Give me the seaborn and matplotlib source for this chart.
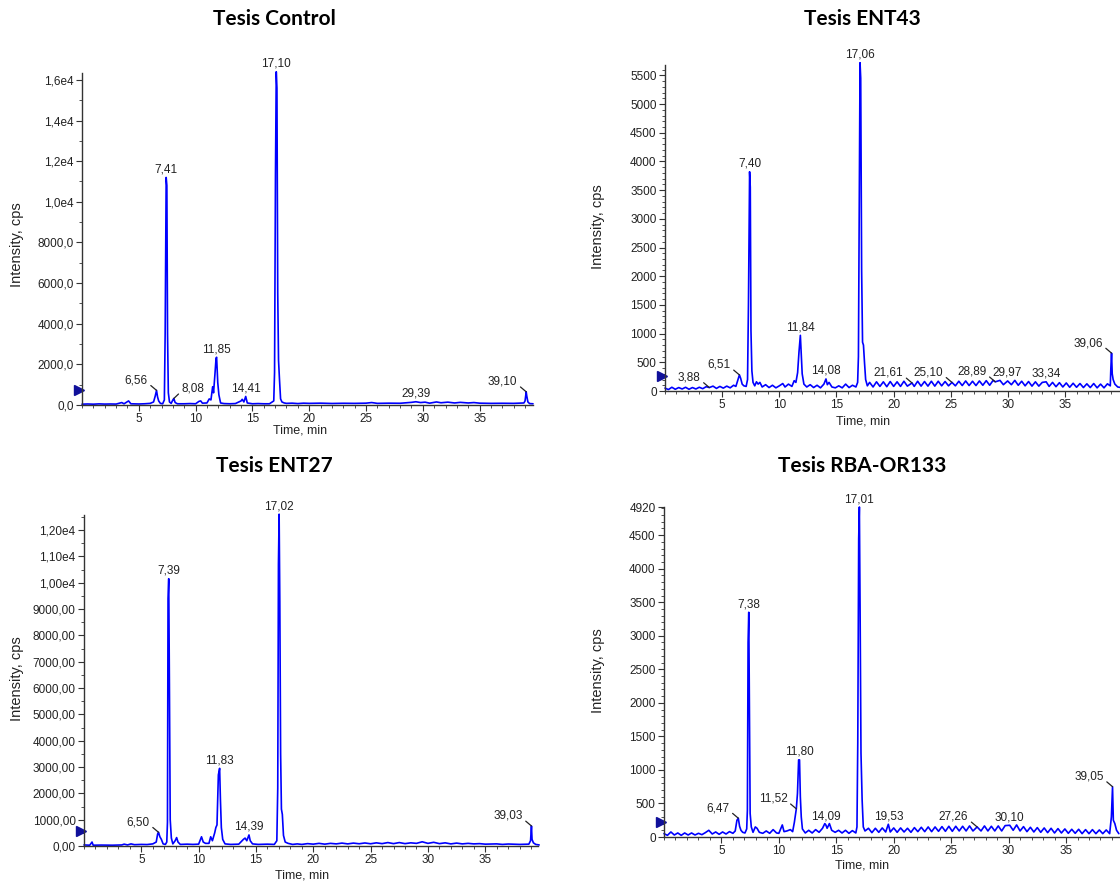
import numpy as np
import pandas as pd
import matplotlib
matplotlib.use("Agg")
import matplotlib.pyplot as plt
import matplotlib.transforms as mtransforms
from matplotlib.ticker import FixedLocator, MultipleLocator
import seaborn as sns

# ---------------- data ----------------
titles = ["Tesis Control", "Tesis ENT43", "Tesis ENT27", "Tesis RBA-OR133"]

ctrl_t = [0.0, 0.5, 1.0, 1.5, 2.0, 2.5, 3.0, 3.5, 3.7, 4.1, 4.3, 5.0, 5.5, 6.0, 6.3, 6.45, 6.56, 6.65, 6.75, 6.9,
          7.1, 7.25, 7.32, 7.41, 7.47, 7.53, 7.6, 7.7, 7.85, 8.0, 8.08, 8.2, 8.4, 9.0, 9.5, 10.0, 10.3, 10.45, 10.6,
          11.0, 11.2, 11.35, 11.5, 11.58, 11.7, 11.8, 11.85, 11.95, 12.05, 12.2, 12.5, 13.0, 13.5, 14.0, 14.1, 14.25,
          14.41, 14.55, 15.0, 15.5, 16.0, 16.5, 16.88, 16.95, 17.03, 17.10, 17.16, 17.23, 17.3, 17.38, 17.48, 17.6,
          17.8, 18.0, 18.5, 19.0, 19.5, 20.0, 21.0, 22.0, 23.0, 24.0, 25.0, 25.5, 26.0, 27.0, 28.0, 29.0, 29.39,
          29.8, 30.2, 30.6, 31.2, 31.6, 32.2, 32.8, 33.3, 34.0, 34.5, 35.0, 36.0, 37.0, 38.0, 38.9, 39.0, 39.10,
          39.15, 39.25, 39.4, 39.7]
ctrl_i = [40, 50, 40, 55, 45, 50, 45, 120, 60, 200, 60, 50, 60, 80, 150, 450, 720, 400, 200, 80,
          60, 250, 3500, 11200, 10800, 3500, 600, 150, 80, 250, 320, 120, 60, 60, 70, 60, 180, 200, 90,
          100, 300, 250, 900, 600, 1500, 2300, 2350, 1100, 500, 100, 70, 60, 70, 200, 280, 150,
          420, 100, 60, 70, 60, 60, 200, 1600, 11300, 16400, 15600, 5500, 2200, 1300, 300, 150,
          100, 80, 90, 70, 90, 80, 90, 75, 85, 80, 90, 120, 80, 90, 85, 130, 160,
          120, 140, 90, 150, 110, 140, 100, 130, 100, 120, 90, 80, 85, 80, 100, 200, 650,
          450, 150, 70, 60]

ent43_t = [0.0, 0.3, 0.6, 0.9, 1.2, 1.5, 1.8, 2.1, 2.4, 2.7, 3.0, 3.3, 3.6, 3.88, 4.2, 4.5, 4.8, 5.1, 5.4, 5.7,
           6.0, 6.2, 6.35, 6.51, 6.62, 6.75, 6.9, 7.1, 7.22, 7.3, 7.40, 7.46, 7.52, 7.6, 7.7, 7.85, 8.0, 8.15, 8.3,
           8.5, 8.8, 9.1, 9.4, 9.7, 10.0, 10.3, 10.5, 10.8, 11.1, 11.3, 11.45, 11.6, 11.72, 11.84, 11.92, 12.0,
           12.15, 12.4, 12.7, 13.0, 13.3, 13.6, 13.9, 14.08, 14.2, 14.35, 14.6, 14.9, 15.2, 15.5, 15.8, 16.1, 16.4,
           16.7, 16.85, 16.92, 17.0, 17.06, 17.12, 17.2, 17.28, 17.36, 17.45, 17.55, 17.7, 17.9, 18.2, 18.5, 18.8,
           19.1, 19.4, 19.7, 20.0, 20.3, 20.6, 20.9, 21.2, 21.61, 21.8, 22.1, 22.4, 22.7, 23.0, 23.3, 23.6, 23.9,
           24.2, 24.5, 24.8, 25.10, 25.4, 25.7, 26.0, 26.3, 26.6, 26.9, 27.2, 27.5, 27.8, 28.1, 28.4, 28.7, 28.89,
           29.3, 29.6, 29.97, 30.3, 30.6, 30.9, 31.2, 31.5, 31.8, 32.1, 32.4, 32.7, 33.0, 33.34, 33.6, 33.9, 34.2,
           34.5, 34.8, 35.1, 35.4, 35.7, 36.0, 36.3, 36.6, 36.9, 37.2, 37.5, 37.8, 38.1, 38.4, 38.7, 38.95, 39.0,
           39.06, 39.12, 39.2, 39.35, 39.6, 39.9]
ent43_i = [50, 25, 65, 30, 60, 35, 65, 30, 60, 35, 65, 40, 75, 60, 85, 45, 80, 50, 85, 55,
           100, 80, 180, 280, 220, 120, 90, 80, 200, 1500, 3820, 3550, 1050, 350, 150, 90, 160, 120, 150,
           70, 110, 60, 100, 55, 90, 130, 70, 120, 80, 180, 150, 320, 680, 970, 650, 300,
           120, 70, 110, 60, 100, 55, 120, 210, 110, 150, 70, 55, 90, 55, 120, 60, 100,
           70, 150, 600, 3700, 5720, 5450, 2100, 850, 800, 500, 200, 90, 150, 70, 160, 80,
           160, 75, 165, 80, 160, 80, 170, 85, 140, 80, 170, 85, 165, 85, 170, 85, 170,
           90, 165, 90, 150, 90, 170, 95, 175, 95, 170, 95, 175, 100, 180, 100, 185, 160,
           185, 110, 175, 110, 185, 100, 170, 90, 165, 85, 160, 85, 150, 160, 80, 150, 75,
           145, 70, 140, 65, 135, 65, 130, 60, 125, 60, 130, 55, 120, 55, 125, 90, 400,
           660, 300, 200, 120, 70, 60]

ent27_t = [0.0, 0.5, 0.7, 0.8, 1.5, 2.5, 3.3, 3.5, 3.8, 4.1, 4.4, 5.0, 5.5, 6.0, 6.3, 6.42, 6.50, 6.62, 6.75,
           6.9, 7.1, 7.22, 7.28, 7.33, 7.39, 7.45, 7.52, 7.62, 7.75, 7.95, 8.08, 8.2, 8.4, 9.0, 9.5, 10.0, 10.25,
           10.4, 10.6, 10.9, 11.05, 11.2, 11.4, 11.5, 11.6, 11.72, 11.83, 11.9, 11.98, 12.1, 12.3, 12.8, 13.5,
           13.9, 14.05, 14.2, 14.39, 14.5, 14.7, 15.2, 16.0, 16.6, 16.82, 16.9, 16.96, 17.02, 17.08, 17.15, 17.22,
           17.3, 17.4, 17.55, 17.8, 18.2, 18.6, 19.0, 19.5, 20.0, 20.5, 21.0, 21.5, 22.0, 22.5, 23.0, 23.5, 24.0,
           24.5, 25.0, 25.5, 26.0, 26.5, 27.0, 27.5, 28.0, 28.5, 29.0, 29.5, 30.0, 30.5, 31.0, 31.5, 32.0, 32.5,
           33.0, 33.5, 34.0, 34.5, 35.0, 36.0, 36.5, 37.0, 38.0, 38.8, 38.95, 39.03, 39.08, 39.2, 39.4, 39.7]
ent27_i = [40, 30, 150, 30, 35, 30, 40, 70, 40, 80, 50, 60, 55, 80, 150, 450, 520, 350, 250,
           80, 60, 150, 900, 9400, 10150, 6150, 1000, 300, 80, 200, 320, 150, 60, 70, 60, 70, 350,
           150, 100, 100, 350, 200, 500, 700, 800, 2700, 2950, 1750, 700, 250, 80, 60, 70,
           250, 300, 200, 420, 200, 80, 60, 70, 60, 200, 2200, 10700, 12600, 9300, 3500, 1400,
           1200, 400, 150, 100, 60, 80, 60, 90, 70, 100, 70, 100, 80, 110, 80, 110, 85,
           115, 85, 120, 90, 130, 90, 130, 90, 120, 100, 160, 100, 140, 90, 120, 80, 110,
           80, 100, 80, 90, 70, 80, 60, 75, 60, 70, 200, 760, 250, 120, 60, 40]

rba_t = [0.0, 0.3, 0.6, 0.9, 1.2, 1.5, 1.8, 2.1, 2.4, 2.7, 3.0, 3.3, 3.6, 3.9, 4.2, 4.5, 4.8, 5.1, 5.4, 5.7,
         6.0, 6.2, 6.35, 6.47, 6.58, 6.7, 6.85, 7.05, 7.2, 7.26, 7.32, 7.38, 7.44, 7.5, 7.6, 7.75, 7.95, 8.1, 8.3,
         8.6, 8.9, 9.2, 9.5, 9.8, 10.0, 10.3, 10.45, 10.7, 11.0, 11.2, 11.35, 11.52, 11.62, 11.72, 11.80, 11.87,
         11.95, 12.05, 12.3, 12.6, 12.9, 13.2, 13.5, 13.8, 14.0, 14.09, 14.2, 14.4, 14.6, 14.9, 15.2, 15.5, 15.8,
         16.1, 16.4, 16.7, 16.8, 16.87, 16.95, 17.01, 17.07, 17.15, 17.25, 17.35, 17.5, 17.8, 18.1, 18.4, 18.7,
         19.0, 19.3, 19.53, 19.7, 20.0, 20.3, 20.6, 20.9, 21.2, 21.5, 21.8, 22.1, 22.4, 22.7, 23.0, 23.3, 23.6,
         23.9, 24.2, 24.5, 24.8, 25.1, 25.4, 25.7, 26.0, 26.3, 26.6, 26.9, 27.26, 27.6, 27.9, 28.2, 28.5, 28.8,
         29.1, 29.4, 29.7, 30.10, 30.4, 30.7, 31.0, 31.3, 31.6, 31.9, 32.2, 32.5, 32.8, 33.1, 33.4, 33.7, 34.0,
         34.3, 34.6, 34.9, 35.2, 35.5, 35.8, 36.1, 36.4, 36.7, 37.0, 37.3, 37.6, 37.9, 38.2, 38.5, 38.8, 38.95,
         39.05, 39.12, 39.25, 39.4, 39.6]
rba_i = [50, 25, 75, 30, 60, 25, 60, 30, 60, 30, 55, 35, 65, 100, 45, 75, 40, 75, 45, 80,
         55, 90, 250, 280, 160, 100, 70, 60, 120, 400, 2900, 3350, 1850, 350, 150, 70, 150, 130, 70,
         55, 90, 55, 110, 60, 55, 180, 80, 90, 110, 80, 220, 420, 650, 1150, 1150, 600,
         300, 120, 60, 100, 60, 110, 70, 130, 200, 180, 130, 200, 100, 70, 100, 60, 100,
         55, 95, 60, 150, 1400, 4450, 4920, 3450, 1250, 550, 150, 90, 130, 65, 130, 70,
         135, 75, 190, 75, 135, 70, 135, 75, 130, 70, 140, 80, 145, 80, 150, 80, 150,
         85, 155, 85, 160, 85, 160, 90, 160, 90, 165, 90, 150, 90, 165, 90, 160, 90,
         165, 90, 170, 175, 100, 180, 90, 155, 80, 145, 75, 140, 70, 135, 65, 130, 60,
         125, 60, 120, 55, 115, 55, 115, 50, 110, 50, 110, 50, 105, 50, 105, 50, 300,
         750, 250, 200, 100, 50]

times = [ctrl_t, ent43_t, ent27_t, rba_t]
intensities = [ctrl_i, ent43_i, ent27_i, rba_i]

# peak labels: retention time and leader side (L = text left, R = text right, N = centred above)
ctrl_peaks = [6.56, 7.41, 8.08, 11.85, 14.41, 17.10, 29.39, 39.10]
ctrl_sides = ["L", "N", "R", "N", "N", "N", "N", "L"]
ent43_peaks = [3.88, 6.51, 7.40, 11.84, 14.08, 17.06, 21.61, 25.10, 28.89, 29.97, 33.34, 39.06]
ent43_sides = ["L", "L", "N", "N", "N", "N", "L", "L", "L", "N", "N", "L"]
ent27_peaks = [6.50, 7.39, 11.83, 14.39, 17.02, 39.03]
ent27_sides = ["L", "N", "N", "N", "N", "L"]
rba_peaks = [6.47, 7.38, 11.52, 11.80, 14.09, 17.01, 19.53, 27.26, 30.10, 39.05]
rba_sides = ["L", "N", "L", "N", "N", "N", "N", "L", "N", "L"]
peaks = [ctrl_peaks, ent43_peaks, ent27_peaks, rba_peaks]
sides = [ctrl_sides, ent43_sides, ent27_sides, rba_sides]

# y-axis ticks and their labels
ctrl_yticks = [0, 2000, 4000, 6000, 8000, 10000, 12000, 14000, 16000]
ctrl_ylabels = ["0,0", "2000,0", "4000,0", "6000,0", "8000,0", "1,0e4", "1,2e4", "1,4e4", "1,6e4"]
ent43_yticks = [0, 500, 1000, 1500, 2000, 2500, 3000, 3500, 4000, 4500, 5000, 5500]
ent43_ylabels = ["0", "500", "1000", "1500", "2000", "2500", "3000", "3500", "4000", "4500", "5000", "5500"]
ent27_yticks = [0, 1000, 2000, 3000, 4000, 5000, 6000, 7000, 8000, 9000, 10000, 11000, 12000]
ent27_ylabels = ["0,00", "1000,00", "2000,00", "3000,00", "4000,00", "5000,00", "6000,00", "7000,00",
                 "8000,00", "9000,00", "1,00e4", "1,10e4", "1,20e4"]
rba_yticks = [0, 500, 1000, 1500, 2000, 2500, 3000, 3500, 4000, 4500, 4920]
rba_ylabels = ["0", "500", "1000", "1500", "2000", "2500", "3000", "3500", "4000", "4500", "4920"]
yticks = [ctrl_yticks, ent43_yticks, ent27_yticks, rba_yticks]
ylabels = [ctrl_ylabels, ent43_ylabels, ent27_ylabels, rba_ylabels]
yminor = [1000, 100, 500, 100]
ymax = [16340, 5680, 12570, 4920]
xmax = [39.7, 39.8, 39.6, 39.7]
xticks = [5, 10, 15, 20, 25, 30, 35]
threshold = [740, 260, 570, 225]

# ---------------- layout (pixels) ----------------
W, H = 1120, 884
boxes = [(82, 533, 73, 405), (665, 1120, 65, 391), (84, 538, 515, 846), (664, 1120, 507, 837)]
title_pos = [(274, 19), (862, 19), (274, 466), (862, 466)]
ylab_pos = [(17, 245), (598, 227), (17, 679), (598, 671)]
xlab_pos = [(300, 431), (863, 421), (302, 876), (862, 866)]

sns.set_style("ticks")
plt.rcParams['font.family'] = ['Liberation Sans', 'DejaVu Sans']

fig = plt.figure(figsize=(W / 100, H / 100), dpi=100)
BLUE = "#0000ff"
INK = "#222222"

for k in range(4):
    l, r, t, b = boxes[k]
    ax = fig.add_axes([l / W, 1 - b / H, (r - l) / W, (b - t) / H])
    df = pd.DataFrame({"time": times[k], "intensity": intensities[k]})
    sns.lineplot(data=df, x="time", y="intensity", ax=ax, color=BLUE, lw=1.2,
                 estimator=None, sort=False)
    for ln in ax.lines:
        ln.set_clip_on(False)
    ax.set_xlim(0, xmax[k])
    ax.set_ylim(0, ymax[k])
    sns.despine(ax=ax)
    for s in ("left", "bottom"):
        ax.spines[s].set_color("#333333")
        ax.spines[s].set_linewidth(1.0)

    ax.xaxis.set_major_locator(FixedLocator(xticks))
    ax.set_xticklabels([str(v) for v in xticks])
    ax.xaxis.set_minor_locator(MultipleLocator(1))
    ax.yaxis.set_major_locator(FixedLocator(yticks[k]))
    ax.set_yticklabels(ylabels[k])
    ax.yaxis.set_minor_locator(MultipleLocator(yminor[k]))
    ax.tick_params(which="major", length=4, width=0.8, color="#333333", labelsize=8.5,
                   labelcolor=INK, pad=2)
    ax.tick_params(axis="x", which="major", pad=1.5)
    ax.tick_params(which="minor", length=2, width=0.6, color="#333333")

    ax.set_xlabel("Time, min", fontsize=9, color=INK)
    ax.set_ylabel("Intensity, cps", fontsize=10.5, color=INK)
    xl, yl = xlab_pos[k]
    ax.xaxis.set_label_coords((xl - l) / (r - l), (b - yl) / (b - t))
    ax.xaxis.label.set_va("center")
    xl, yl = ylab_pos[k]
    ax.yaxis.set_label_coords((xl - l) / (r - l), (b - yl) / (b - t))
    ax.yaxis.label.set_va("center")

    # threshold marker on the y axis
    trans = mtransforms.blended_transform_factory(ax.transAxes, ax.transData) + \
        mtransforms.ScaledTranslation(-3 / 100, 0, fig.dpi_scale_trans)
    ax.plot([0], [threshold[k]], marker=">", ms=7, color="#10109a", transform=trans,
            clip_on=False, ls="none")

    # peak labels
    for rt, side in zip(peaks[k], sides[k]):
        h = float(np.interp(rt, times[k], intensities[k]))
        txt = f"{rt:.2f}".replace(".", ",")
        if side == "N":
            ax.annotate(txt, xy=(rt, h), xytext=(0, 2), textcoords="offset pixels",
                        ha="center", va="bottom", fontsize=8.5, color=INK, annotation_clip=False)
        elif side == "L":
            ax.annotate(txt, xy=(rt, h), xytext=(-9, 4), textcoords="offset pixels",
                        ha="right", va="bottom", fontsize=8.5, color=INK, annotation_clip=False,
                        arrowprops=dict(arrowstyle="-", lw=0.9, color=INK, relpos=(1.0, 0.3),
                                        shrinkA=0, shrinkB=0))
        else:
            ax.annotate(txt, xy=(rt, h), xytext=(8, 4), textcoords="offset pixels",
                        ha="left", va="bottom", fontsize=8.5, color=INK, annotation_clip=False,
                        arrowprops=dict(arrowstyle="-", lw=0.9, color=INK, relpos=(0.0, 0.3),
                                        shrinkA=0, shrinkB=0))

    tx, ty = title_pos[k]
    fig.text(tx / W, 1 - ty / H, titles[k], ha="center", va="center", fontsize=15,
             fontweight="bold", family=["Lato", "DejaVu Sans"], color="black")

fig.savefig("out.png", dpi=100, facecolor="white")
